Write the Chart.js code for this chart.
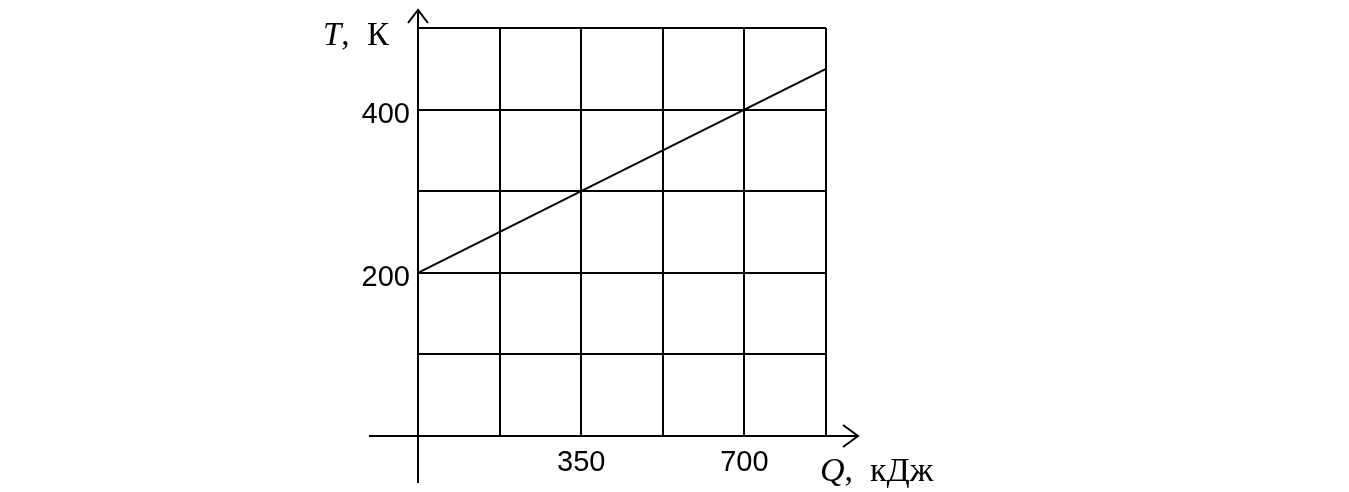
<!DOCTYPE html>
<html>
<head>
<meta charset="utf-8">
<script src="https://cdn.jsdelivr.net/npm/chart.js@4/dist/chart.umd.min.js"></script>
<style>
html,body{margin:0;padding:0;background:#fff;}
canvas{display:block;}
</style>
</head>
<body>
<canvas id="c" width="1349" height="492"></canvas>
<script>
const qValues = [0, 350, 700, 875];
const tValues = [200, 300, 400, 450];
const xTickLabels = [350, 700];
const yTickLabels = [200, 400];
const xTitleVar = 'Q';
const xTitleUnit = 'кДж';
const yTitleVar = 'T';
const yTitleUnit = 'К';

const axesPlugin = {
  id: 'axesArrows',
  afterDraw(chart) {
    const ctx = chart.ctx;
    const xs = chart.scales.x, ys = chart.scales.y;
    const x0 = xs.getPixelForValue(0);
    const y0 = ys.getPixelForValue(0);
    const ca = chart.chartArea;
    ctx.save();
    ctx.strokeStyle = '#000';
    ctx.lineWidth = 2;
    // y axis
    ctx.beginPath();
    ctx.moveTo(x0, ca.bottom + 47);
    ctx.lineTo(x0, ca.top - 18);
    ctx.stroke();
    ctx.beginPath();
    ctx.moveTo(x0 - 10, ca.top - 5);
    ctx.lineTo(x0, ca.top - 18);
    ctx.lineTo(x0 + 10, ca.top - 5);
    ctx.stroke();
    // x axis
    ctx.beginPath();
    ctx.moveTo(ca.left - 49, y0);
    ctx.lineTo(ca.right + 32, y0);
    ctx.stroke();
    ctx.beginPath();
    ctx.moveTo(ca.right + 17, y0 - 11);
    ctx.lineTo(ca.right + 32, y0);
    ctx.lineTo(ca.right + 17, y0 + 11);
    ctx.stroke();
    // titles
    ctx.fillStyle = '#000';
    ctx.textBaseline = 'alphabetic';
    ctx.textAlign = 'left';
    const tx = ca.left - 95, ty = ca.top + 17;
    ctx.font = 'italic 33px "Liberation Serif"';
    ctx.fillText(yTitleVar, tx, ty);
    let w = ctx.measureText(yTitleVar).width;
    ctx.font = '33px "Liberation Serif"';
    ctx.fillText(',', tx + w, ty);
    ctx.fillText(yTitleUnit, ca.left - 51, ty);
    const qx = ca.right - 6, qy = y0 + 45;
    ctx.font = 'italic 34px "Liberation Serif"';
    ctx.fillText(xTitleVar, qx, qy);
    w = ctx.measureText(xTitleVar).width;
    ctx.font = '34px "Liberation Serif"';
    ctx.fillText(',', qx + w, qy);
    ctx.fillText(xTitleUnit, ca.right + 44, qy);
    ctx.restore();
  }
};

new Chart(document.getElementById('c'), {
  type: 'line',
  data: {
    datasets: [{
      data: qValues.map((q, i) => ({x: q, y: tValues[i]})),
      borderColor: '#000',
      borderWidth: 2,
      pointRadius: 0,
      fill: false,
      tension: 0
    }]
  },
  options: {
    responsive: false,
    animation: false,
    layout: { padding: { left: 0, top: 28, right: 523, bottom: 0 } },
    plugins: { legend: { display: false }, tooltip: { enabled: false } },
    scales: {
      x: {
        type: 'linear', min: 0, max: 875,
        afterFit(s) { s.height = 56; },
        border: { display: false },
        grid: { color: '#000', lineWidth: 2, drawTicks: false },
        ticks: {
          stepSize: 175, autoSkip: false, maxRotation: 0, padding: 10,
          color: '#000', font: { family: '"Liberation Sans", Arial', size: 29 },
          callback: v => xTickLabels.includes(v) ? String(v) : ''
        }
      },
      y: {
        type: 'linear', min: 0, max: 500,
        afterFit(s) { s.width = 418; },
        border: { display: false },
        grid: { color: '#000', lineWidth: 2, drawTicks: false },
        ticks: {
          stepSize: 100, autoSkip: false, padding: 8, labelOffset: 5,
          color: '#000', font: { family: '"Liberation Sans", Arial', size: 29 },
          callback: v => yTickLabels.includes(v) ? String(v) : ''
        }
      }
    }
  },
  plugins: [axesPlugin]
});
</script>
</body>
</html>
